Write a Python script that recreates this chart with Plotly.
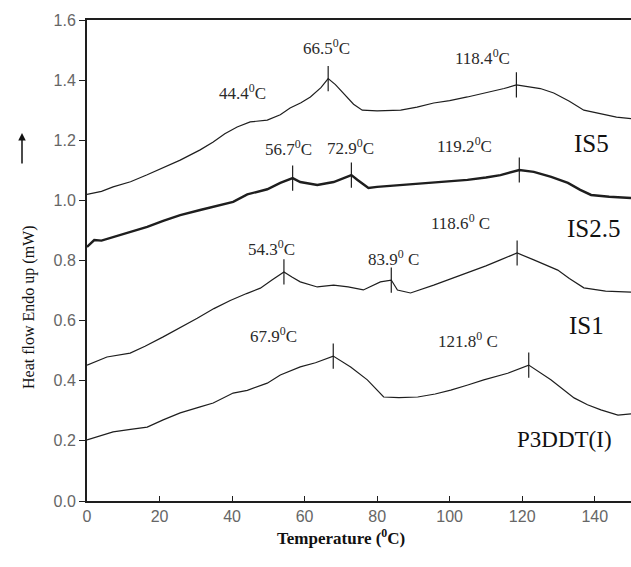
import plotly.graph_objects as go

# ---- data ----
is5_x = [0, 4, 7.2, 12, 16.6, 21, 25.7, 31.2, 34.8, 38, 41.4, 45, 49.7, 53.3, 56, 59, 61.6, 64.5, 66.5, 68.5, 70.7, 73.5, 75.9, 80, 86.5, 91, 95.6, 100, 104.9, 109, 112, 115, 118.4, 121, 125, 128.7, 133, 137, 141, 146, 150]
is5_y = [1.02, 1.03, 1.045, 1.062, 1.085, 1.108, 1.134, 1.168, 1.194, 1.222, 1.244, 1.261, 1.267, 1.285, 1.307, 1.325, 1.344, 1.375, 1.405, 1.385, 1.357, 1.32, 1.30, 1.298, 1.30, 1.31, 1.324, 1.332, 1.344, 1.355, 1.365, 1.372, 1.384, 1.38, 1.372, 1.357, 1.33, 1.30, 1.29, 1.277, 1.272]

is25_x = [0, 2, 4, 7.2, 12, 16.6, 21, 25.7, 31.2, 36, 40.3, 44.2, 49.7, 53.3, 56.7, 58.8, 63.5, 68, 72.9, 74.6, 77.6, 80, 86.5, 95, 100, 104.9, 110, 114, 119.2, 123.2, 128, 132.6, 136, 139, 144, 150]
is25_y = [0.845, 0.868, 0.866, 0.878, 0.895, 0.912, 0.932, 0.951, 0.968, 0.982, 0.995, 1.02, 1.037, 1.058, 1.074, 1.061, 1.051, 1.061, 1.084, 1.068, 1.041, 1.045, 1.051, 1.058, 1.062, 1.068, 1.076, 1.084, 1.101, 1.095, 1.078, 1.058, 1.035, 1.018, 1.012, 1.008]

is1_x = [0, 5.5, 11.9, 16, 21, 26, 30.4, 35, 39.5, 44, 47.8, 51, 54.3, 56.5, 58.8, 63.5, 68, 72, 76.2, 80.9, 83.9, 85.6, 89.2, 95.6, 100, 104.9, 110, 114, 118.6, 123.2, 129.8, 133, 137, 143, 150]
is1_y = [0.452, 0.479, 0.492, 0.515, 0.546, 0.578, 0.608, 0.64, 0.667, 0.69, 0.708, 0.735, 0.762, 0.745, 0.729, 0.712, 0.718, 0.712, 0.702, 0.729, 0.735, 0.702, 0.692, 0.718, 0.738, 0.758, 0.782, 0.802, 0.825, 0.802, 0.768, 0.74, 0.709, 0.698, 0.695]

p3_x = [0, 3, 7.2, 12, 16.6, 21, 25.7, 31.2, 34.8, 40.3, 44.2, 49.7, 53.3, 58.8, 63, 67.9, 72.7, 77.3, 81.8, 86, 91.2, 96, 100.3, 105, 109.4, 116, 121.8, 127.9, 134.3, 138, 141.7, 146.4, 150]
p3_y = [0.203, 0.215, 0.23, 0.238, 0.246, 0.27, 0.293, 0.313, 0.326, 0.359, 0.368, 0.392, 0.419, 0.446, 0.46, 0.482, 0.446, 0.403, 0.346, 0.344, 0.346, 0.356, 0.369, 0.386, 0.403, 0.425, 0.452, 0.403, 0.343, 0.32, 0.303, 0.286, 0.29]

peak_x = [66.5, 118.4, 56.7, 72.9, 119.2, 54.3, 83.9, 118.6, 67.9, 121.8]
peak_y = [1.405, 1.384, 1.074, 1.084, 1.101, 0.762, 0.735, 0.825, 0.482, 0.452]

labels_text = ["66.5<sup>0</sup>C", "118.4<sup>0</sup>C", "44.4<sup>0</sup>C",
               "56.7<sup>0</sup>C", "72.9<sup>0</sup>C", "119.2<sup>0</sup>C",
               "118.6<sup>0</sup> C", "54.3<sup>0</sup>C", "83.9<sup>0</sup> C",
               "67.9<sup>0</sup>C", "121.8<sup>0</sup> C"]
labels_x = [66, 109, 43, 55.6, 72.6, 104, 103, 51, 84.6, 51.5, 105]
labels_y = [1.51, 1.477, 1.36, 1.174, 1.178, 1.184, 0.928, 0.842, 0.808, 0.552, 0.536]

sample_names = ["IS5", "IS2.5", "IS1", "P3DDT(I)"]
sample_x = [139.1, 139.6, 137.6, 131.8]
sample_y = [1.19, 0.908, 0.585, 0.203]
sample_size = [25, 25, 25, 23]

x_ticks = [0, 20, 40, 60, 80, 100, 120, 140]
y_ticks = [0.0, 0.2, 0.4, 0.6, 0.8, 1.0, 1.2, 1.4, 1.6]

INK = "#1e1e1e"
SERIF = "Liberation Serif, Times New Roman, serif"
SANS = "Liberation Sans, Arial, sans-serif"

fig = go.Figure()
for xs, ys, w in [(is5_x, is5_y, 1.2), (is25_x, is25_y, 2.4), (is1_x, is1_y, 1.2), (p3_x, p3_y, 1.2)]:
    fig.add_trace(go.Scatter(x=xs, y=ys, mode="lines", line=dict(color=INK, width=w),
                             showlegend=False, hoverinfo="skip"))

fig.add_trace(go.Scatter(x=peak_x, y=peak_y, mode="markers",
                         marker=dict(symbol="line-ns-open", size=18, color=INK,
                                     line=dict(color=INK, width=1.2)),
                         showlegend=False, hoverinfo="skip"))

for t, x, y in zip(labels_text, labels_x, labels_y):
    fig.add_annotation(x=x, y=y, text=t, showarrow=False,
                       font=dict(family=SERIF, size=17, color="#2a2a2a"))

for t, x, y, s in zip(sample_names, sample_x, sample_y, sample_size):
    fig.add_annotation(x=x, y=y, text=t, showarrow=False,
                       font=dict(family=SERIF, size=s, color="#111"))

# axis titles
fig.add_annotation(xref="paper", yref="paper", x=(341 - 87) / 544, y=-(550 - 501) / 481,
                   text="<b>Temperature (<sup>0</sup>C)</b>", showarrow=False,
                   font=dict(family=SERIF, size=17, color="#111"))
fig.add_annotation(xref="paper", yref="paper", x=(18 - 87) / 544, y=(501 - 307) / 481,
                   text="Heat flow Endo up (mW)", textangle=-90, showarrow=False,
                   font=dict(family=SERIF, size=16, color="#111"))
fig.add_annotation(xref="paper", yref="paper", x=(22 - 87) / 544, y=(501 - 133) / 481,
                   ax=0, ay=32, text="", showarrow=True, arrowhead=2, arrowsize=1,
                   arrowwidth=1.5, arrowcolor="#111")

fig.update_xaxes(range=[0, 150], tickvals=x_ticks, ticks="inside", ticklen=5,
                 tickcolor=INK, showline=True, linecolor=INK, linewidth=2, mirror=True,
                 showgrid=False, zeroline=False,
                 tickfont=dict(family=SANS, size=16, color="#666"))
fig.update_yaxes(range=[0, 1.6], tickvals=y_ticks, tickformat=".1f", ticks="outside", ticklen=6,
                 tickcolor=INK, showline=True, linecolor=INK, linewidth=2,
                 showgrid=False, zeroline=False,
                 tickfont=dict(family=SANS, size=16, color="#666"))

fig.update_layout(width=631, height=567, margin=dict(l=87, r=0, t=20, b=66),
                  plot_bgcolor="white", paper_bgcolor="white")

fig.write_html("out.html")
